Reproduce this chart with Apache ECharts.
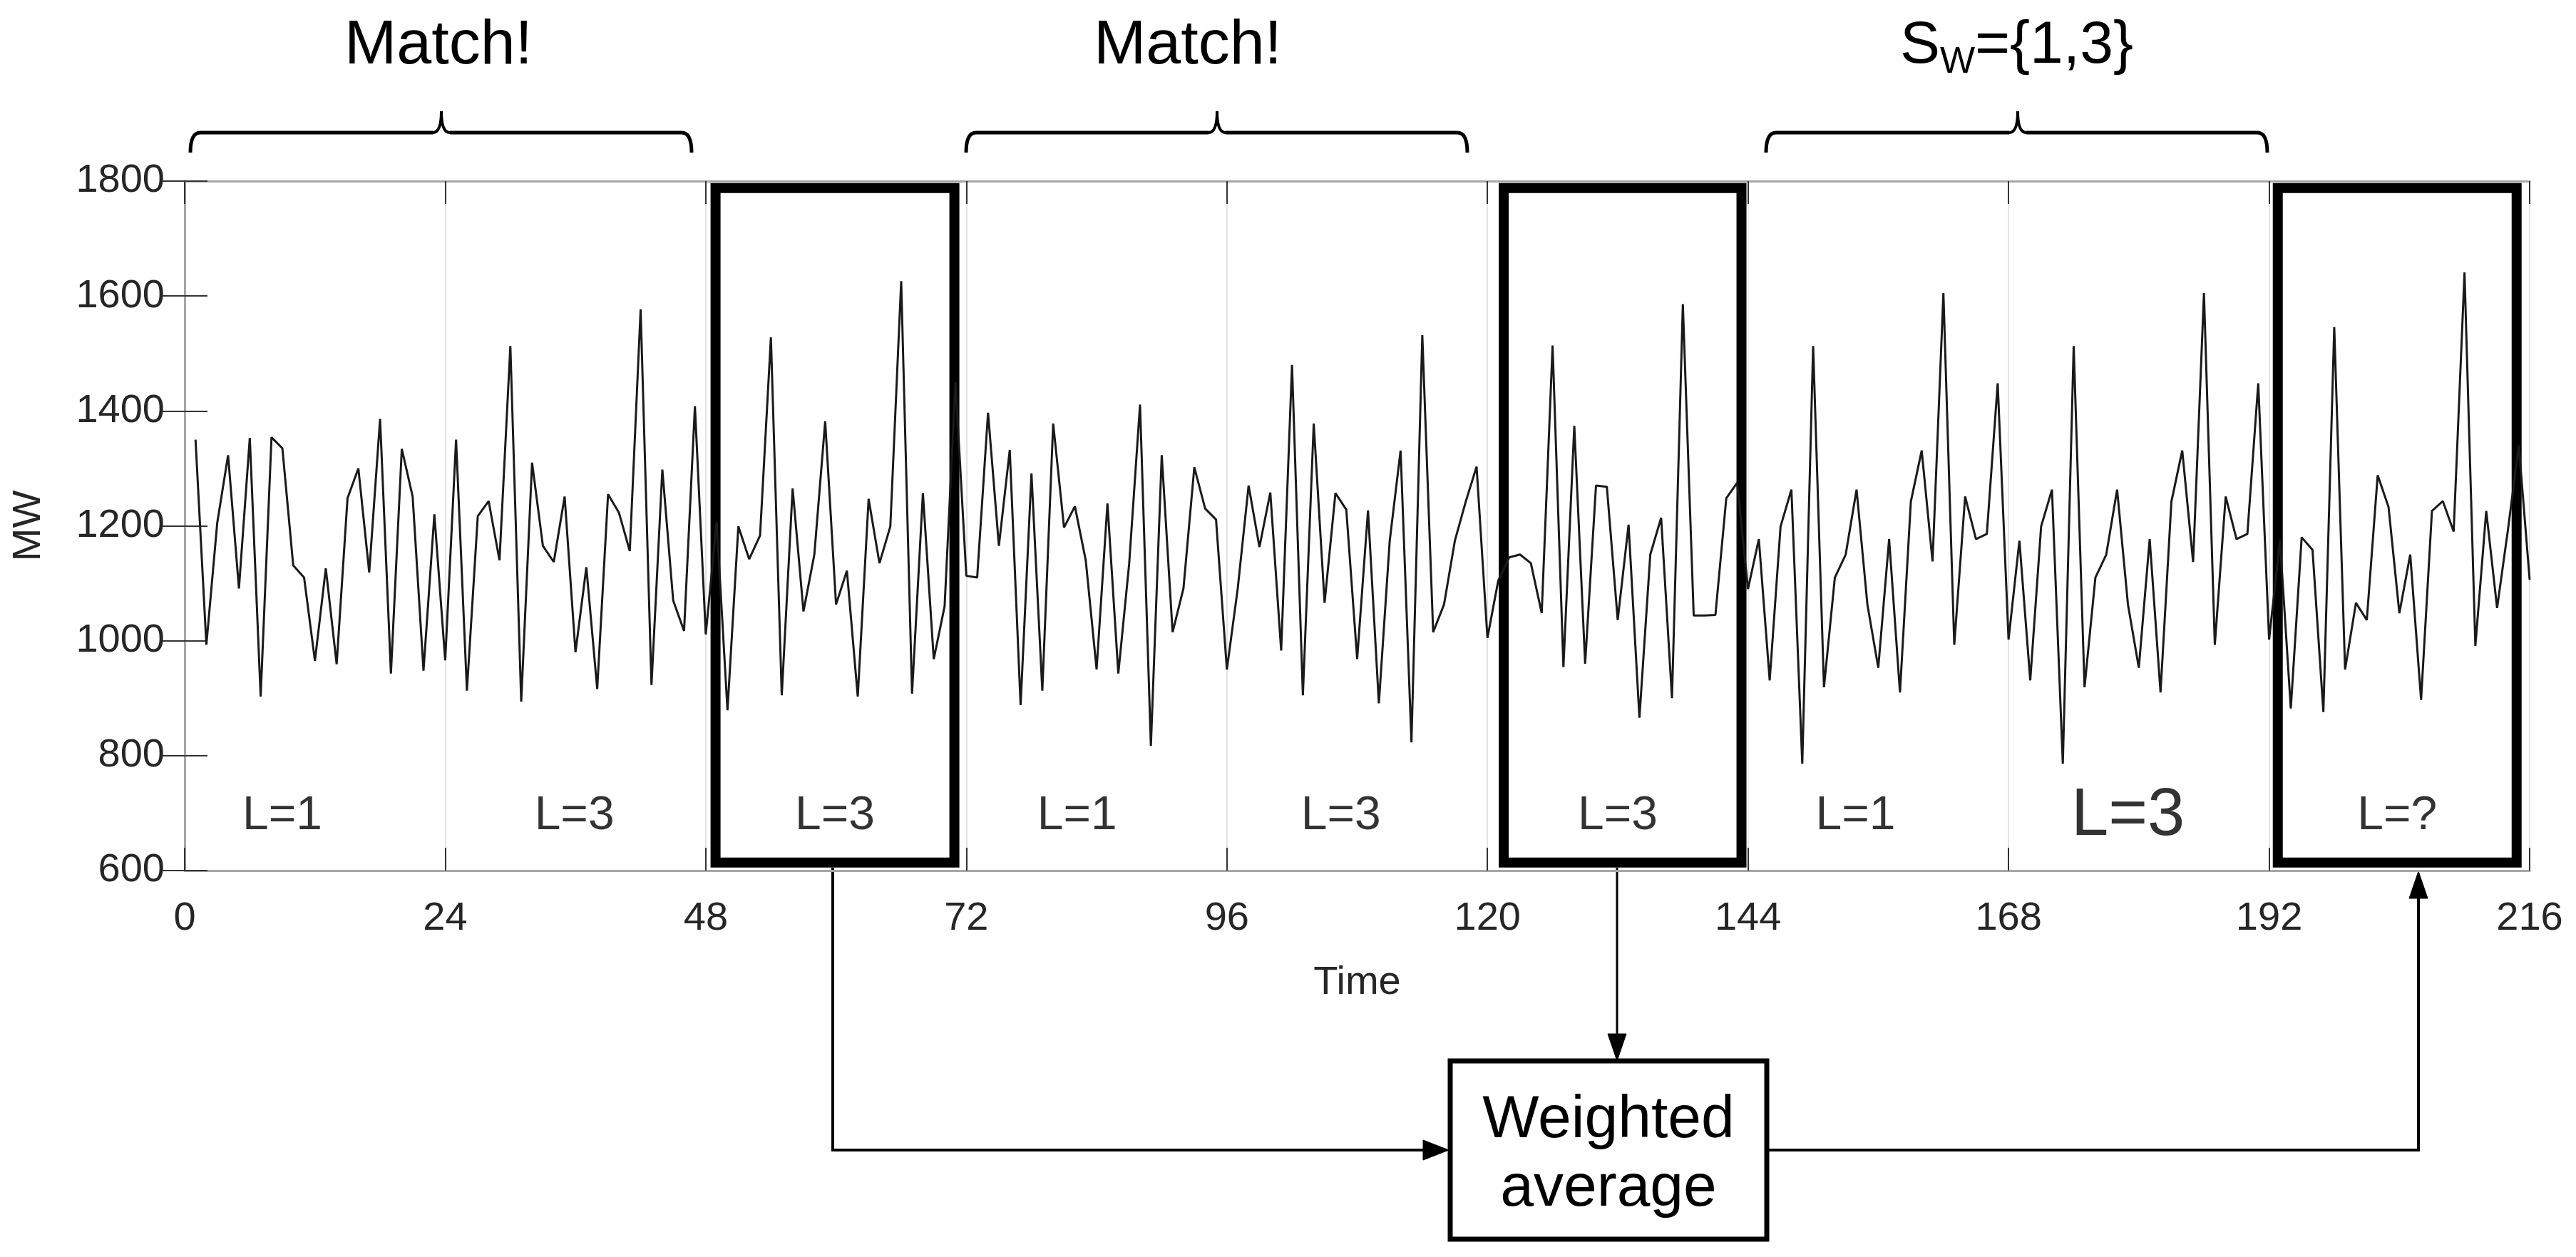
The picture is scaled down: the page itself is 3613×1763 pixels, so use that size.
<!DOCTYPE html>
<html><head><meta charset="utf-8">
<script src="https://cdn.jsdelivr.net/npm/echarts@6/dist/echarts.min.js"></script>
<style>html,body{margin:0;padding:0;background:#fff}#c{width:3613px;height:1763px}</style>
</head><body><div id="c"></div>
<script>
// Hourly load (MW), hours 1..216
const load = [
  1350, 993, 1205, 1323, 1091, 1353, 903, 1354, 1335, 1131, 1110, 965, 1126, 959, 1248, 1300, 1119, 1386, 943, 1334, 1251, 948, 1220, 966,
  1350, 913, 1217, 1243, 1140, 1513, 894, 1310, 1165, 1137, 1251, 980, 1128, 916, 1255, 1223, 1156, 1577, 923, 1298, 1070, 1017, 1408, 1011,
  1207, 879, 1199, 1142, 1183, 1528, 905, 1265, 1051, 1150, 1382, 1063, 1122, 903, 1247, 1135, 1199, 1626, 908, 1257, 968, 1060, 1450, 1113,
  1110, 1397, 1165, 1332, 888, 1291, 913, 1378, 1197, 1234, 1140, 950, 1239, 943, 1134, 1411, 817, 1323, 1015, 1091, 1302, 1230, 1211, 950,
  1091, 1270, 1163, 1258, 983, 1480, 905, 1378, 1066, 1257, 1228, 968, 1227, 891, 1174, 1331, 823, 1532, 1015, 1063, 1174, 1242, 1303, 1005,
  1105, 1145, 1150, 1135, 1048, 1514, 954, 1374, 960, 1270, 1268, 1036, 1202, 866, 1150, 1214, 900, 1586, 1044, 1044, 1045, 1248, 1275, 1090,
  1177, 931, 1199, 1263, 786, 1513, 919, 1110, 1150, 1263, 1063, 953, 1177, 910, 1242, 1331, 1138, 1605, 993, 1251, 1177, 1186, 1448, 1002,
  1174, 931, 1199, 1263, 786, 1513, 919, 1110, 1150, 1263, 1063, 953, 1177, 910, 1242, 1331, 1137, 1605, 993, 1251, 1177, 1186, 1448, 1002,
  1175, 882, 1180, 1158, 876, 1546, 950, 1066, 1036, 1288, 1233, 1048, 1150, 897, 1226, 1243, 1190, 1641, 991, 1226, 1057, 1193, 1340, 1106
];
const xMin = 0, xMax = 216, xStep = 24;
const yMin = 600, yMax = 1800, yStep = 200;
// highlighted windows (hours) and their vertical extent (MW)
const boxHours = [[48.9, 70.9], [121.5, 143.4], [192.8, 214.8]];
const boxMW = [1788, 614];
// window labels
const segLabels = ['L=1', 'L=3', 'L=3', 'L=1', 'L=3', 'L=3', 'L=1', 'L=3', 'L=?'];
const segLabelHours = [9.0, 35.9, 59.9, 82.2, 106.5, 132.0, 153.9, 179.0, 203.8];
const segLabelMW = 694;

const hours = load.map((_, i) => i + 1);
const lineData = hours.map((h, i) => [h, load[i]]);
const FONT = 'Liberation Sans, Arial, sans-serif';
const TXT = '#262626';

const chart = echarts.init(document.getElementById('c'));

const axisLine = { show: true, lineStyle: { color: '#a6a6a6', width: 3 } };
const tick = { show: true, inside: true, length: 32, lineStyle: { color: '#333', width: 2 } };

const stroke = w => ({ fill: null, stroke: '#000', lineWidth: w });
function bez(x1, y1, cx, cy, x2, y2, w) {
  return { type: 'bezierCurve', shape: { x1: x1, y1: y1, x2: x2, y2: y2, cpx1: cx, cpy1: cy }, style: stroke(w) };
}
function seg(x1, y1, x2, y2, w) {
  return { type: 'line', shape: { x1: x1, y1: y1, x2: x2, y2: y2 }, style: stroke(w) };
}
function brace(x1, x2, xc, yEnd, yH, yTip) {
  return {
    type: 'group', children: [
      bez(x1, yEnd, x1, yH, x1 + 14, yH, 5),
      seg(x1 + 14, yH, xc - 12, yH, 5),
      bez(xc - 12, yH, xc, yH, xc, yTip, 4),
      bez(xc, yTip, xc, yH, xc + 12, yH, 4),
      seg(xc + 12, yH, x2 - 14, yH, 5),
      bez(x2 - 14, yH, x2, yH, x2, yEnd, 5)
    ]
  };
}
function line(pts, w) {
  return { type: 'polyline', shape: { points: pts }, style: stroke(w) };
}
function tri(pts) {
  return { type: 'polygon', shape: { points: pts }, style: { fill: '#000', stroke: '#000', lineWidth: 1 } };
}
function txt(x, y, t, size, align, valign) {
  return { type: 'text', x: x, y: y, style: { text: t, font: size + 'px ' + FONT, fill: '#000', align: align || 'center', verticalAlign: valign || 'middle' } };
}

const option = {
  backgroundColor: '#fff',
  animation: false,
  grid: { left: 259, right: 65, top: 254, bottom: 542, show: false },
  xAxis: [
    {
      type: 'value', min: xMin, max: xMax, interval: xStep, position: 'bottom',
      axisLine: axisLine, axisTick: tick,
      axisLabel: { fontSize: 56, color: TXT, fontFamily: FONT, margin: 40, formatter: v => String(v) },
      splitLine: { show: true, lineStyle: { color: '#e3e3e3', width: 2 } },
      name: 'Time', nameLocation: 'middle', nameGap: 130,
      nameTextStyle: { fontSize: 56, color: TXT, fontFamily: FONT }
    },
    {
      type: 'value', min: xMin, max: xMax, interval: xStep, position: 'top',
      axisLine: axisLine, axisTick: tick, axisLabel: { show: false }, splitLine: { show: false }
    }
  ],
  yAxis: [
    {
      type: 'value', min: yMin, max: yMax, interval: yStep, position: 'left',
      axisLine: axisLine, axisTick: tick,
      axisLabel: { fontSize: 56, color: TXT, fontFamily: FONT, margin: 28, formatter: v => String(v) },
      splitLine: { show: false },
      name: 'MW', nameLocation: 'middle', nameGap: 190, nameRotate: 90,
      nameTextStyle: { fontSize: 56, color: TXT, fontFamily: FONT }
    },
    {
      type: 'value', min: yMin, max: yMax, interval: yStep, position: 'right',
      axisLine: axisLine, axisTick: tick, axisLabel: { show: false }, splitLine: { show: false }
    }
  ],
  series: [
    {
      type: 'line', data: lineData, symbol: 'none', z: 3,
      lineStyle: { color: '#1a1a1a', width: 3 }
    },
    {
      type: 'scatter', symbolSize: 0, z: 6, silent: true,
      data: segLabels.map((t, i) => ({
        value: [segLabelHours[i], segLabelMW], name: t,
        label: i === 7 ? { fontSize: 94 } : undefined
      })),
      label: { show: true, position: 'inside', formatter: '{b}', fontSize: 66, color: '#000', fontFamily: FONT },
      markArea: {
        silent: true,
        itemStyle: { color: 'rgba(0,0,0,0)', borderColor: '#000', borderWidth: 14 },
        data: boxHours.map(b => [{ xAxis: b[0], yAxis: boxMW[0] }, { xAxis: b[1], yAxis: boxMW[1] }])
      }
    }
  ],
  graphic: [
    brace(267, 970, 619, 214, 186, 156),
    brace(1355, 2058, 1707, 214, 186, 156),
    brace(2477, 3180, 2830, 214, 186, 156),
    txt(615, 65, 'Match!', 88),
    txt(1666, 65, 'Match!', 88),
    txt(2665, 65, 'S', 84, 'left'),
    txt(2721, 114, 'W', 52, 'left', 'bottom'),
    txt(2770, 65, '={1,3}', 84, 'left'),
    // arrows and weighted average box
    line([[1168, 1217], [1168, 1613], [2000, 1613]], 4),
    tri([[2032, 1613], [1996, 1599], [1996, 1627]]),
    line([[2268, 1217], [2268, 1452]], 3),
    tri([[2268, 1488], [2255, 1450], [2281, 1450]]),
    line([[2478, 1613], [3392, 1613], [3392, 1258]], 4),
    tri([[3392, 1222], [3379, 1260], [3405, 1260]]),
    { type: 'rect', shape: { x: 2034, y: 1488, width: 444, height: 250 }, style: { fill: '#fff', stroke: '#000', lineWidth: 7 } },
    txt(2256, 1572, 'Weighted', 84),
    txt(2256, 1668, 'average', 84)
  ]
};
chart.setOption(option);
</script>
</body></html>
